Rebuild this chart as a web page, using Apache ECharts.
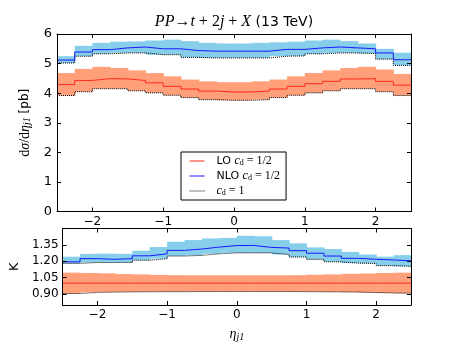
<!DOCTYPE html>
<html>
<head>
<meta charset="utf-8">
<script src="https://cdn.jsdelivr.net/npm/echarts@6/dist/echarts.min.js"></script>
<style>
  html, body { margin: 0; padding: 0; background: #fff; }
  #chart { width: 457px; height: 343px; }
</style>
</head>
<body>
<div id="chart"></div>
<script>
// bin edges in eta_j1 (20 bins of 0.25)
var etaEdges = [-2.5, -2.25, -2, -1.75, -1.5, -1.25, -1, -0.75, -0.5, -0.25, 0,
                0.25, 0.5, 0.75, 1, 1.25, 1.5, 1.75, 2, 2.25, 2.5];
var xTicks = [-2, -1, 0, 1, 2];
var kTicks = [0.9, 1.05, 1.2, 1.35];

// upper panel, dsigma/deta [pb]
var loCentral = [4.29, 4.43, 4.49, 4.48, 4.43, 4.35, 4.23, 4.14, 4.07, 4.04,
                 4.04, 4.07, 4.14, 4.23, 4.32, 4.40, 4.48, 4.49, 4.40, 4.27];
var loUpper   = [4.68, 4.82, 4.89, 4.85, 4.77, 4.68, 4.57, 4.46, 4.40, 4.37,
                 4.37, 4.40, 4.46, 4.57, 4.68, 4.77, 4.85, 4.89, 4.80, 4.65];
var loCd1     = [3.92, 4.05, 4.15, 4.15, 4.08, 4.01, 3.93, 3.85, 3.78, 3.76,
                 3.76, 3.78, 3.85, 3.93, 4.01, 4.08, 4.15, 4.15, 4.05, 3.92];
var nloCentral = [5.12, 5.39, 5.47, 5.53, 5.56, 5.50, 5.50, 5.44, 5.42, 5.42,
                  5.42, 5.42, 5.48, 5.48, 5.53, 5.56, 5.53, 5.50, 5.36, 5.13];
var nloUpper   = [5.25, 5.60, 5.70, 5.74, 5.75, 5.78, 5.81, 5.76, 5.70, 5.68,
                  5.68, 5.70, 5.72, 5.74, 5.78, 5.81, 5.76, 5.68, 5.50, 5.37];
var nloCd1     = [5.02, 5.25, 5.33, 5.36, 5.36, 5.30, 5.30, 5.21, 5.19, 5.19,
                  5.19, 5.19, 5.25, 5.26, 5.33, 5.36, 5.36, 5.34, 5.15, 4.94];

// lower panel, K factor
var kLoCentral = [1.0, 1.0, 1.0, 1.0, 1.0, 1.0, 1.0, 1.0, 1.0, 1.0,
                  1.0, 1.0, 1.0, 1.0, 1.0, 1.0, 1.0, 1.0, 1.0, 1.0];
var kLoUpper   = [1.096, 1.093, 1.090, 1.083, 1.080, 1.075, 1.073, 1.072, 1.072, 1.072,
                  1.072, 1.072, 1.072, 1.073, 1.077, 1.080, 1.085, 1.088, 1.093, 1.096];
var kLoCd1     = [0.905, 0.915, 0.918, 0.920, 0.921, 0.922, 0.922, 0.923, 0.923, 0.923,
                  0.923, 0.923, 0.923, 0.922, 0.921, 0.920, 0.918, 0.914, 0.910, 0.908];
var kNloCentral = [1.195, 1.224, 1.218, 1.224, 1.250, 1.268, 1.300, 1.312, 1.330, 1.344,
                   1.345, 1.327, 1.321, 1.297, 1.274, 1.248, 1.227, 1.218, 1.212, 1.204];
var kNloUpper   = [1.242, 1.268, 1.270, 1.268, 1.297, 1.330, 1.379, 1.394, 1.409, 1.414,
                   1.433, 1.429, 1.394, 1.364, 1.327, 1.312, 1.286, 1.262, 1.242, 1.256];
var kNloCd1     = [1.181, 1.189, 1.189, 1.189, 1.210, 1.224, 1.248, 1.254, 1.268, 1.277,
                   1.277, 1.277, 1.262, 1.239, 1.218, 1.195, 1.183, 1.181, 1.160, 1.154];

var RED = '#ff2a1a', BLUE = '#1a1aff', SALMON = '#ffa07a', SKY = '#87ceeb';
var SERIF = 'Liberation Serif';

function stepData(vals) {
  return etaEdges.map(function (e, i) { return [e, vals[Math.min(i, vals.length - 1)]]; });
}
function bandData(lo, hi) {
  return lo.map(function (v, i) { return [etaEdges[i], etaEdges[i + 1], v, hi[i]]; });
}
function bandSeries(name, lo, hi, color, idx) {
  return {
    name: name, type: 'custom', xAxisIndex: idx, yAxisIndex: idx, z: 1,
    encode: { x: [0, 1], y: [2, 3] },
    data: bandData(lo, hi),
    renderItem: function (params, api) {
      var a = api.coord([api.value(0), api.value(3)]);
      var b = api.coord([api.value(1), api.value(2)]);
      return { type: 'rect', shape: { x: a[0], y: a[1], width: b[0] - a[0] + 0.6, height: b[1] - a[1] },
               style: { fill: color } };
    }
  };
}
function stepSeries(name, vals, color, type, idx) {
  return {
    name: name, type: 'line', xAxisIndex: idx, yAxisIndex: idx, z: 3,
    step: 'end', symbol: 'none', showSymbol: false, animation: false,
    lineStyle: { color: color, width: 1, type: type },
    itemStyle: { color: color },
    data: stepData(vals)
  };
}
function minusFmt(v) { return v < 0 ? '\u2212' + (-v) : String(v); }

var tickBase = { show: true, inside: true, length: 4, lineStyle: { color: '#000' } };
var lineBase = { show: true, onZero: false, lineStyle: { color: '#000', width: 1 } };
var labelBase = { color: '#000', fontSize: 12, fontFamily: 'DejaVu Sans' };

function xAx(grid, pos, showLabel, extra) {
  return Object.assign({
    type: 'value', gridIndex: grid, position: pos, min: -2.5, max: 2.5, z: 10,
    axisLine: lineBase, splitLine: { show: false },
    axisTick: Object.assign({ customValues: xTicks }, tickBase),
    axisLabel: Object.assign({ show: showLabel, customValues: xTicks, margin: 4, formatter: minusFmt }, labelBase)
  }, extra || {});
}

var mathRich = {
  u: { fontFamily: SERIF, fontSize: 14, color: '#000' },
  m: { fontFamily: SERIF, fontStyle: 'italic', fontSize: 14, color: '#000' },
  s: { fontFamily: SERIF, fontStyle: 'italic', fontSize: 10, color: '#000', verticalAlign: 'bottom', padding: [5, 0, 0, 0] },
  t: { fontFamily: 'DejaVu Sans', fontSize: 12, color: '#000' }
};

var chart = echarts.init(document.getElementById('chart'));
chart.setOption({
  animation: false,
  backgroundColor: '#fff',
  title: {
    left: 234, top: 14, textAlign: 'center', padding: 0,
    text: '{m|PP}{u|\u2192}{m|t}{u| + 2}{m|j}{u| + }{m|X}{t| (13 TeV)}',
    textStyle: { fontWeight: 'normal', rich: {
      u: { fontFamily: SERIF, fontSize: 16, fontWeight: 'normal', color: '#000' },
      m: { fontFamily: SERIF, fontStyle: 'italic', fontSize: 16, fontWeight: 'normal', color: '#000' },
      t: { fontFamily: 'DejaVu Sans', fontSize: 14, fontWeight: 'normal', color: '#000' }
    } }
  },
  legend: {
    left: 181, top: 152, orient: 'vertical',
    data: ['LO', 'NLO', 'cd1'],
    itemWidth: 15, itemHeight: 10, itemGap: 3,
    padding: [3, 6, 3, 8],
    borderColor: '#000', borderWidth: 1, borderRadius: 0,
    backgroundColor: '#fff',
    itemStyle: { opacity: 0 },
    lineStyle: { width: 1 },
    formatter: function (name) {
      if (name === 'LO') return '{g| }{t|LO }{m|c}{d|d}{e| = 1/2}';
      if (name === 'NLO') return '{g| }{t|NLO }{m|c}{d|d}{e| = 1/2}';
      return '{g| }{m|c}{d|d}{e| = 1}';
    },
    textStyle: { fontFamily: 'DejaVu Sans', rich: {
      g: { width: 7 },
      t: { fontFamily: 'DejaVu Sans', fontSize: 11, color: '#000' },
      m: { fontFamily: SERIF, fontStyle: 'italic', fontSize: 12, color: '#000' },
      d: { fontFamily: SERIF, fontSize: 8, color: '#000', verticalAlign: 'bottom', padding: [3, 0, 0, 0] },
      e: { fontFamily: SERIF, fontSize: 12, color: '#000' }
    } }
  },
  grid: [
    { left: 57, top: 34, width: 354, height: 177.5 },
    { left: 57, top: 228.5, width: 354, height: 80 }
  ],
  xAxis: [
    xAx(0, 'bottom', true),
    xAx(1, 'bottom', true, {
      name: '{m|\u03b7}{s|j1}', nameLocation: 'middle', nameGap: 22,
      nameTextStyle: { rich: mathRich }
    }),
    xAx(0, 'top', false),
    xAx(1, 'top', false)
  ],
  yAxis: [
    {
      type: 'value', gridIndex: 0, position: 'left', min: 0, max: 6, interval: 1, z: 10,
      axisLine: lineBase, axisTick: tickBase, splitLine: { show: false },
      axisLabel: Object.assign({ margin: 5 }, labelBase, { fontSize: 13 }),
      name: '{u|d}{m|\u03c3}{u|/d}{m|\u03b7}{s|j1}{t| [pb]}', nameLocation: 'middle', nameGap: 22, nameRotate: 90,
      nameTextStyle: { rich: mathRich }
    },
    {
      type: 'value', gridIndex: 1, position: 'left', min: 0.8, max: 1.5, z: 10,
      axisLine: lineBase, splitLine: { show: false },
      axisTick: Object.assign({ customValues: kTicks }, tickBase),
      axisLabel: Object.assign({ margin: 4, customValues: kTicks,
        formatter: function (v) { return v.toFixed(2); } }, labelBase),
      name: 'K', nameLocation: 'middle', nameGap: 40, nameRotate: 90,
      nameTextStyle: { fontFamily: 'DejaVu Sans', fontSize: 13, color: '#000' }
    },
    {
      type: 'value', gridIndex: 0, position: 'right', min: 0, max: 6, interval: 1, z: 10,
      axisLine: lineBase, axisTick: tickBase, splitLine: { show: false }, axisLabel: { show: false }
    },
    {
      type: 'value', gridIndex: 1, position: 'right', min: 0.8, max: 1.5, z: 10,
      axisLine: lineBase, splitLine: { show: false },
      axisTick: Object.assign({ customValues: kTicks }, tickBase), axisLabel: { show: false }
    }
  ],
  series: [
    bandSeries('loBand', loCd1, loUpper, SALMON, 0),
    bandSeries('nloBand', nloCd1, nloUpper, SKY, 0),
    stepSeries('cd1', loCd1, '#000', 'dotted', 0),
    stepSeries('cd1', nloCd1, '#000', 'dotted', 0),
    stepSeries('LO', loCentral, RED, 'solid', 0),
    stepSeries('NLO', nloCentral, BLUE, 'solid', 0),

    bandSeries('kLoBand', kLoCd1, kLoUpper, SALMON, 1),
    bandSeries('kNloBand', kNloCd1, kNloUpper, SKY, 1),
    stepSeries('cd1', kLoCd1, '#000', 'dotted', 1),
    stepSeries('cd1', kNloCd1, '#000', 'dotted', 1),
    stepSeries('LO', kLoCentral, RED, 'solid', 1),
    stepSeries('NLO', kNloCentral, BLUE, 'solid', 1)
  ]
});
</script>
</body>
</html>
